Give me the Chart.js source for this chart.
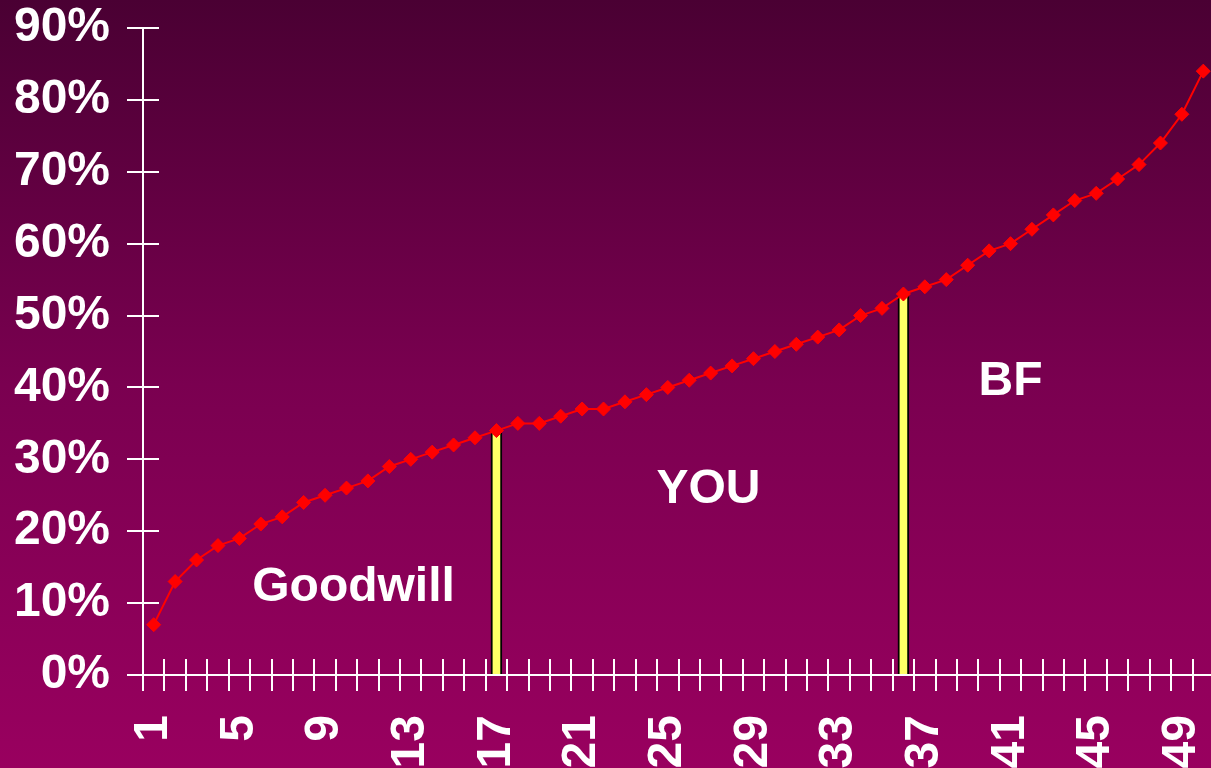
<!DOCTYPE html>
<html>
<head>
<meta charset="utf-8">
<title>Share curve</title>
<script src="https://cdn.jsdelivr.net/npm/chart.js@4.4.1/dist/chart.umd.min.js"></script>
<style>
  html, body {
    margin: 0;
    padding: 0;
    overflow: hidden;
    width: 1211px;
    height: 768px;
  }
  body {
    background: linear-gradient(to bottom, #4a0033 0%, #7a0050 50%, #99005f 100%);
  }
  #wrap {
    position: absolute;
    left: 0;
    top: 0;
    width: 1222px;
    height: 768px;
  }
</style>
</head>
<body>
<div id="wrap"><canvas id="chart"></canvas></div>
<script>
// --- DATA ---
const positions = Array.from({ length: 50 }, (_, i) => String(i + 1));
const shares = [7, 13, 16, 18, 19, 21, 22, 24, 25, 26,
                27, 29, 30, 31, 32, 33, 34, 35, 35, 36,
                37, 37, 38, 39, 40, 41, 42, 43, 44, 45,
                46, 47, 48, 50, 51, 53, 54, 55, 57, 59,
                60, 62, 64, 66, 67, 69, 71, 74, 78, 84];
const dividers = ["17", "36"];
const yTicks = [0, 10, 20, 30, 40, 50, 60, 70, 80, 90];
const zoneNames = ["Goodwill", "YOU", "BF"];
const zoneAt = [[9.33, 12.1], [25.9, 25.7], [40.0, 40.8]]; // [category index, %]

const dividerData = positions.map((p, i) => dividers.includes(p) ? shares[i] : null);

const FONT = "'Liberation Sans', Arial, sans-serif";

// inner half of the tick marks (they cross the axis lines)
const crossTicks = {
  id: 'crossTicks',
  beforeDatasetsDraw(chart) {
    const { ctx, chartArea, scales } = chart;
    ctx.save();
    ctx.strokeStyle = '#ffffff';
    ctx.lineWidth = 2;
    ctx.beginPath();
    const xs = scales.x;
    for (let i = 0; i <= positions.length; i++) {
      const px = Math.round(xs.getPixelForValue(i - 0.5));
      ctx.moveTo(px, chartArea.bottom);
      ctx.lineTo(px, chartArea.bottom - 16);
    }
    const ys = scales.y;
    yTicks.forEach(v => {
      const py = Math.round(ys.getPixelForValue(v));
      ctx.moveTo(chartArea.left, py);
      ctx.lineTo(chartArea.left + 16, py);
    });
    ctx.stroke();
    ctx.restore();
  }
};

// zone captions
const zoneLabels = {
  id: 'zoneLabels',
  afterDraw(chart) {
    const { ctx, scales } = chart;
    ctx.save();
    ctx.fillStyle = '#ffffff';
    ctx.font = `bold 48px ${FONT}`;
    ctx.textAlign = 'center';
    ctx.textBaseline = 'middle';
    zoneNames.forEach((name, i) => {
      const [cx, cy] = zoneAt[i];
      ctx.fillText(name, scales.x.getPixelForValue(cx), scales.y.getPixelForValue(cy));
    });
    ctx.restore();
  }
};

new Chart(document.getElementById('chart'), {
  type: 'bar',
  data: {
    labels: positions,
    datasets: [
      {
        type: 'line',
        label: 'Share',
        data: shares,
        borderColor: '#ff0000',
        borderWidth: 2,
        pointStyle: 'rectRot',
        pointRadius: 7,
        pointBackgroundColor: '#ff0000',
        pointBorderColor: '#ff0000',
        pointBorderWidth: 1,
        tension: 0,
        order: 0
      },
      {
        type: 'bar',
        label: 'Divider',
        data: dividerData,
        backgroundColor: '#ffff66',
        borderColor: '#000000',
        borderWidth: 2,
        borderSkipped: 'bottom',
        barThickness: 11,
        order: 1
      }
    ]
  },
  options: {
    responsive: true,
    maintainAspectRatio: false,
    animation: false,
    layout: { padding: { top: 28, right: 0, left: 0, bottom: 0 } },
    plugins: {
      legend: { display: false },
      tooltip: { enabled: false }
    },
    scales: {
      x: {
        offset: true,
        grid: {
          offset: true,
          drawOnChartArea: false,
          drawTicks: true,
          tickLength: 16,
          color: '#ffffff',
          lineWidth: 2
        },
        border: { color: '#ffffff', width: 2 },
        ticks: {
          autoSkip: false,
          minRotation: 90,
          maxRotation: 90,
          padding: 24,
          color: '#ffffff',
          font: { family: FONT, size: 48, weight: 'bold' },
          callback: (v, i) => (i % 4 === 0 ? positions[i] : '')
        },
        afterFit: s => {
          s.height = 93;
          s.paddingLeft = 0;
          s.paddingRight = 0;
        }
      },
      y: {
        min: 0,
        max: 90,
        afterBuildTicks: s => { s.ticks = yTicks.map(v => ({ value: v })); },
        grid: {
          drawOnChartArea: false,
          drawTicks: true,
          tickLength: 16,
          color: '#ffffff',
          lineWidth: 2
        },
        border: { color: '#ffffff', width: 2 },
        ticks: {
          padding: 17,
          color: '#ffffff',
          font: { family: FONT, size: 48, weight: 'bold' },
          callback: v => v + '%'
        },
        afterFit: s => {
          s.width = 143;
          s.paddingTop = 0;
          s.paddingBottom = 0;
        }
      }
    }
  },
  plugins: [crossTicks, zoneLabels]
});
</script>
</body>
</html>
